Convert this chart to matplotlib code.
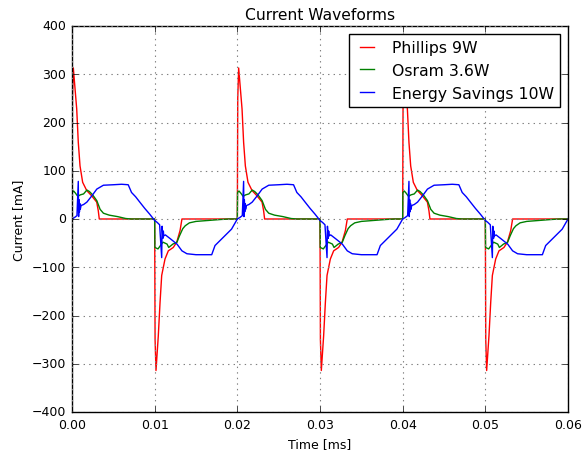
"""Current waveforms of three lamps
"""
import numpy as np
from matplotlib import pyplot as plt

PERIOD = 0.02
N_PERIODS = 3

# one mains period, time offset [s] and current [mA]
phillips_t = [0.0, 0.00005, 0.00016, 0.00057, 0.00076, 0.00097, 0.00129,
              0.00178, 0.00238, 0.00299, 0.00318, 0.0033, 0.0100, 0.01005,
              0.01016, 0.01044, 0.01065, 0.01085, 0.01125, 0.01165, 0.01225,
              0.01267, 0.01307, 0.0133, 0.0200]
phillips_i = [0, 250, 313, 228, 159, 110, 76,
              59, 48, 35, 17, 0, 0, -250,
              -314, -242, -173, -117, -83, -66, -59,
              -48, -24, 0, 0]

osram_t = [0.0, 0.00003, 0.0002, 0.0004, 0.0007, 0.0010, 0.0014, 0.0018,
           0.0021, 0.0025, 0.0030, 0.0034, 0.0038, 0.0045, 0.0055, 0.0065,
           0.0072, 0.0100, 0.01003, 0.0104, 0.0110, 0.0115, 0.0117, 0.0122,
           0.0127, 0.0130, 0.0134, 0.0137, 0.0142, 0.0150, 0.0165, 0.0180,
           0.0190, 0.0200]
osram_i = [0, 55, 58, 54, 47, 50, 52, 60,
           57, 50, 38, 20, 12, 8, 5, 1,
           0, 0, -59, -62, -48, -52, -59, -52,
           -48, -35, -20, -14, -8, -5, -3, -1,
           0, 0]

savings_t = [0.0, 0.0003, 0.0006, 0.00076, 0.0008, 0.00085, 0.0009, 0.00095,
             0.0010, 0.0011, 0.0014, 0.0018, 0.0024, 0.0030, 0.0038, 0.0050,
             0.0060, 0.0068, 0.0072, 0.0077, 0.0082, 0.0088, 0.0094, 0.0100,
             0.0103, 0.0106, 0.01085, 0.0109, 0.0110, 0.01105, 0.0111, 0.0113,
             0.0119, 0.0127, 0.0133, 0.0139, 0.0150, 0.0169, 0.0173, 0.0183,
             0.0193, 0.0200]
savings_i = [0, 3, 7, 78, 5, 40, 15, 32,
             20, 28, 30, 35, 48, 62, 70, 71,
             72, 71, 55, 46, 35, 22, 10, -3,
             -7, -12, -80, -15, -40, -25, -35, -33,
             -41, -52, -66, -72, -74, -74, -55, -38,
             -21, 0]


def repeat_period(t, i):
    """Lay the recorded period end to end"""
    t_all = np.concatenate([np.array(t) + k*PERIOD for k in range(N_PERIODS)])
    i_all = np.tile(np.array(i, dtype=float), N_PERIODS)
    return t_all, i_all


plt.style.use('classic')
plt.rcParams['font.size'] = 9
plt.rcParams['savefig.facecolor'] = 'white'
plt.rcParams['figure.facecolor'] = 'white'

fig = plt.figure(figsize=(5.87, 4.52), dpi=100)
axis = fig.add_axes([72/587, 39/452, 496/587, 386/452])

axis.plot(*repeat_period(phillips_t, phillips_i), color='r', linewidth=1,
          label='Phillips 9W')
axis.plot(*repeat_period(osram_t, osram_i), color='g', linewidth=1,
          label='Osram 3.6W')
axis.plot(*repeat_period(savings_t, savings_i), color='b', linewidth=1,
          label='Energy Savings 10W')

axis.set_xlim([0, 0.06])
axis.set_ylim([-400, 400])
axis.set_xticks(np.arange(0, 0.061, 0.01))
axis.set_xticklabels([f'{v:.2f}' for v in np.arange(0, 0.061, 0.01)])
axis.set_yticks(np.arange(-400, 401, 100))
axis.grid(True, color='grey', linestyle=':', linewidth=0.8)
axis.set_title('Current Waveforms', fontsize=11.2)
axis.set_xlabel('Time [ms]')
axis.set_ylabel('Current [mA]')
axis.legend(loc='upper right', fontsize=11.3, fancybox=False,
            handlelength=1.5)

fig.savefig('out.png', dpi=100)
